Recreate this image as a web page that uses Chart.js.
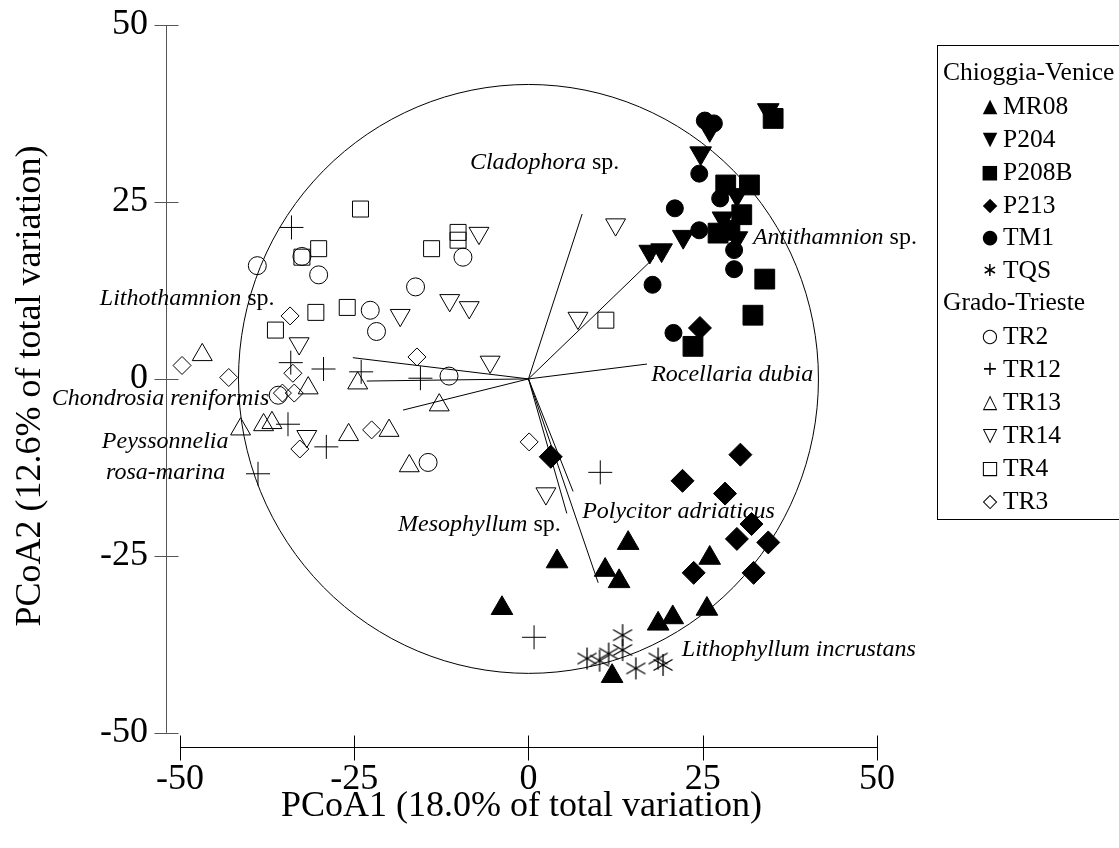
<!DOCTYPE html>
<html>
<head>
<meta charset="utf-8">
<script src="https://cdn.jsdelivr.net/npm/chart.js@4.4.1/dist/chart.umd.min.js"></script>
<style>
    body { margin: 0; background: #fff; }
    #wrap { position: relative; width: 1119px; height: 848px; }
    #legend {
        position: absolute; left: 937px; top: 45px; width: 200px; height: 475px;
        border: 1px solid #000; box-sizing: border-box; padding-top: 10px;
        font-family: "Liberation Serif", "Times New Roman", serif; font-size: 25.5px; color: #000;
    }
    #legend div { height: 32.9px; line-height: 32.9px; white-space: nowrap; }
    #legend .hdr { padding-left: 5px; }
    #legend .item { padding-left: 42px; }
    #legend .sym { display: inline-block; width: 20px; text-align: center; margin-right: 3px;
        font-family: "DejaVu Sans", sans-serif; font-size: 19px; vertical-align: 2px; }
</style>
</head>
<body>
<div id="wrap">
    <canvas id="pcoa" width="1119" height="848"></canvas>
    <div id="legend"></div>
</div>
<script>
// ---- data ----
const tickValues = [-50, -25, 0, 25, 50];

// Chioggia-Venice
const mr08X = [14.3, 4.1, 11.0, 13.0, -3.8, 18.6, 20.7, 25.6, 26.0, 12.0];
const mr08Y = [-23.2, -25.8, -27.0, -28.6, -32.4, -34.6, -33.7, -32.5, -25.3, -42.0];
const p204X = [26.0, 24.7, 34.4, 29.9, 27.9, 22.2, 29.9, 17.4, 19.1];
const p204Y = [35.2, 31.9, 38.0, 26.0, 22.7, 20.1, 19.9, 18.0, 18.2];
const p208bX = [35.1, 28.3, 31.7, 30.6, 27.2, 28.9, 33.9, 32.2, 23.6];
const p208bY = [36.8, 27.4, 27.4, 23.2, 20.6, 21.0, 14.1, 9.0, 4.6];
const p213X = [3.2, 22.1, 30.4, 28.2, 32.0, 29.9, 34.4, 23.7, 32.3, 24.6];
const p213Y = [-11.0, -14.4, -10.7, -16.2, -20.5, -22.6, -23.1, -27.4, -27.4, 7.2];
const tm1X = [25.3, 26.6, 24.5, 27.5, 21.0, 24.5, 29.5, 29.5, 17.8, 20.8];
const tm1Y = [36.5, 36.1, 29.0, 25.5, 24.1, 21.0, 18.2, 15.5, 13.3, 6.5];
const tqsX = [8.4, 10.2, 11.5, 13.5, 13.5, 15.4, 18.6, 19.3];
const tqsY = [-39.5, -39.8, -38.8, -36.2, -38.3, -40.9, -39.5, -40.4];

// Grado-Trieste
const tr2X = [-38.9, -32.5, -30.1, -9.4, -16.2, -22.7, -21.8, -11.4, -35.9, -14.4];
const tr2Y = [16.0, 17.3, 14.7, 17.2, 13.0, 9.7, 6.7, 0.4, -2.3, -11.8];
const tr12X = [-34.0, -34.1, -29.4, -24.0, -15.5, -34.5, -29.0, -38.8, 10.3, 0.8];
const tr12Y = [21.4, 2.3, 1.4, 1.0, 0.1, -6.4, -9.6, -13.4, -13.2, -36.5];
const tr13X = [-46.8, -24.5, -31.6, -12.8, -41.3, -38.0, -36.8, -25.8, -20.0, -17.1];
const tr13Y = [3.4, -0.6, -1.3, -3.7, -7.1, -6.5, -6.2, -7.9, -7.3, -12.3];
const tr14X = [-7.1, -11.3, -8.5, -18.4, -32.9, -5.5, -31.8, 12.5, 7.1, 2.5];
const tr14Y = [20.6, 11.1, 10.1, 9.0, 5.0, 2.4, -8.1, 21.8, 8.6, -16.2];
const tr4X = [-24.1, -10.1, -10.1, -30.1, -32.5, -13.9, -30.5, -26.0, -36.3, 11.1];
const tr4Y = [24.0, 20.7, 19.6, 18.4, 17.2, 18.4, 9.4, 10.1, 6.9, 8.3];
const tr3X = [-34.2, -16.0, -49.7, -43.0, -33.8, -35.3, -33.6, -32.8, -22.5, 0.1];
const tr3Y = [8.9, 3.1, 1.9, 0.2, 0.8, -2.0, -2.0, -9.9, -7.2, -8.9];

// species vectors (end points)
const vectorNames = ['Cladophora', 'Antithamnion', 'Rocellaria', 'Lithothamnion', 'Chondrosia',
    'Peyssonnelia', 'Mesophyllum', 'Polycitor', 'Lithophyllum'];
const vectorX = [7.7, 18.0, 17.0, -25.2, -23.2, -18.0, 5.5, 6.4, 10.0];
const vectorY = [23.3, 17.1, 2.1, 3.0, -0.3, -4.4, -19.0, -15.9, -28.8];
const circleRadius = 41.6;

// vector labels: [italic part, roman part], anchored at left/middle
const labelTexts = [['Cladophora', ' sp.'], ['Antithamnion', ' sp.'], ['Lithothamnion', ' sp.'],
    ['Rocellaria dubia', ''], ['Chondrosia reniformis', ''], ['Peyssonnelia', ''], ['rosa-marina', ''],
    ['Mesophyllum', ' sp.'], ['Polycitor adriaticus', ''], ['Lithophyllum incrustans', '']];
const labelX = [-8.4, 32.2, -61.5, 17.6, -68.4, -61.2, -60.6, -18.7, 7.7, 22.0];
const labelY = [30.5, 20.0, 11.4, 0.55, -2.8, -8.9, -13.2, -20.6, -18.8, -38.3];

const serif = '"Liberation Serif", "Times New Roman", serif';

function pts(xs, ys) {
    return xs.map((x, i) => ({ x: x, y: ys[i] }));
}

function makeAsterisk(size) {
    const c = document.createElement('canvas');
    c.width = c.height = size;
    const g = c.getContext('2d');
    const r = size / 2 - 1;
    g.strokeStyle = '#000';
    g.lineWidth = 1.3;
    g.beginPath();
    [90, 30, 150].forEach(deg => {
        const a = deg * Math.PI / 180;
        g.moveTo(size / 2 + r * Math.cos(a), size / 2 - r * Math.sin(a));
        g.lineTo(size / 2 - r * Math.cos(a), size / 2 + r * Math.sin(a));
    });
    g.stroke();
    return c;
}

function filled(label, data, style, radius, rotation) {
    return { label: label, data: data, pointStyle: style, pointRadius: radius, pointRotation: rotation || 0,
        backgroundColor: '#000', borderColor: '#000', borderWidth: 1, pointHoverRadius: radius };
}
function open(label, data, style, radius, rotation) {
    return { label: label, data: data, pointStyle: style, pointRadius: radius, pointRotation: rotation || 0,
        backgroundColor: 'rgba(0,0,0,0)', borderColor: '#000', borderWidth: 1, pointHoverRadius: radius };
}

const vectorSets = vectorX.map((x, i) => ({
    label: vectorNames[i], data: [{ x: 0, y: 0 }, { x: x, y: vectorY[i] }],
    showLine: true, pointRadius: 0, borderColor: '#000', borderWidth: 1
}));

const datasets = vectorSets.concat([
    open('TR2', pts(tr2X, tr2Y), 'circle', 9),
    open('TR12', pts(tr12X, tr12Y), 'cross', 12),
    open('TR13', pts(tr13X, tr13Y), 'triangle', 11.5),
    open('TR14', pts(tr14X, tr14Y), 'triangle', 11.5, 180),
    open('TR4', pts(tr4X, tr4Y), 'rect', 11.3),
    open('TR3', pts(tr3X, tr3Y), 'rectRot', 9),
    filled('MR08', pts(mr08X, mr08Y), 'triangle', 12.5),
    filled('P204', pts(p204X, p204Y), 'triangle', 12.5, 180),
    filled('P208B', pts(p208bX, p208bY), 'rect', 14),
    filled('P213', pts(p213X, p213Y), 'rectRot', 11.5),
    filled('TM1', pts(tm1X, tm1Y), 'circle', 8.5),
    open('TQS', pts(tqsX, tqsY), makeAsterisk(24), 12)
]);

// axes, circle and species labels drawn against the library scales
const biplotDecor = {
    id: 'biplotDecor',
    beforeDatasetsDraw(chart) {
        const { ctx, scales: { x, y } } = chart;
        const x0 = x.getPixelForValue(0), y0 = y.getPixelForValue(0);
        ctx.save();
        ctx.strokeStyle = '#000';
        ctx.lineWidth = 1;
        ctx.beginPath();
        ctx.ellipse(x0, y0, x.getPixelForValue(circleRadius) - x0, y0 - y.getPixelForValue(circleRadius), 0, 0, Math.PI * 2);
        ctx.stroke();

        // y axis (detached, left)
        const ax = Math.round(x.left) + 0.5;
        ctx.strokeStyle = '#555';
        ctx.beginPath();
        ctx.moveTo(ax, y.getPixelForValue(50));
        ctx.lineTo(ax, y.getPixelForValue(-50));
        tickValues.forEach(v => {
            const py = Math.round(y.getPixelForValue(v)) + 0.5;
            ctx.moveTo(ax - 12, py);
            ctx.lineTo(ax + 12, py);
        });
        ctx.stroke();

        // x axis (detached, bottom)
        const ay = Math.round(y.bottom) + 0.5;
        ctx.strokeStyle = '#000';
        ctx.beginPath();
        ctx.moveTo(x.getPixelForValue(-50), ay);
        ctx.lineTo(x.getPixelForValue(50), ay);
        tickValues.forEach(v => {
            const px = Math.round(x.getPixelForValue(v)) + 0.5;
            ctx.moveTo(px, ay - 12);
            ctx.lineTo(px, ay + 13);
        });
        ctx.stroke();
        ctx.restore();
    },
    afterDatasetsDraw(chart) {
        const { ctx, scales: { x, y } } = chart;
        ctx.save();
        ctx.fillStyle = '#000';
        ctx.textBaseline = 'middle';
        ctx.textAlign = 'left';
        labelTexts.forEach((parts, i) => {
            let px = x.getPixelForValue(labelX[i]);
            const py = y.getPixelForValue(labelY[i]);
            ctx.font = 'italic 24px ' + serif;
            ctx.fillText(parts[0], px, py);
            px += ctx.measureText(parts[0]).width;
            if (parts[1]) {
                ctx.font = '24px ' + serif;
                ctx.fillText(parts[1], px, py);
            }
        });
        ctx.restore();
    }
};

const axisFont = { family: serif, size: 36 };

new Chart(document.getElementById('pcoa'), {
    type: 'scatter',
    data: { datasets: datasets },
    options: {
        responsive: false,
        animation: false,
        events: [],
        layout: { padding: { left: 0, right: 242, top: 25, bottom: 0 } },
        plugins: { legend: { display: false }, tooltip: { enabled: false } },
        elements: { line: { tension: 0 } },
        scales: {
            x: {
                type: 'linear', min: -52, max: 50,
                afterFit: s => { s.height = 101; s.paddingLeft = 0; s.paddingRight = 0; },
                afterBuildTicks: s => { s.ticks = tickValues.map(v => ({ value: v })); },
                grid: { display: false, drawTicks: false },
                border: { display: false },
                ticks: { color: '#000', font: axisFont, padding: 11, maxRotation: 0, callback: v => String(v) },
                title: { display: true, text: 'PCoA1 (18.0% of total variation)', color: '#000', font: axisFont,
                    padding: { top: 0, bottom: 20 } }
            },
            y: {
                type: 'linear', min: -52, max: 50,
                afterFit: s => { s.width = 166; s.paddingTop = 0; s.paddingBottom = 0; },
                afterBuildTicks: s => { s.ticks = tickValues.map(v => ({ value: v })); },
                grid: { display: false, drawTicks: false },
                border: { display: false },
                ticks: { color: '#000', font: axisFont, padding: 18, callback: v => String(v) },
                title: { display: true, text: 'PCoA2 (12.6% of total variation)', color: '#000', font: axisFont,
                    padding: { top: 9, bottom: 0 } }
            }
        }
    },
    plugins: [biplotDecor]
});

// grouped legend
const legendGroups = [
    ['Chioggia-Venice', [['\u25B2', 'MR08'], ['\u25BC', 'P204'], ['\u25A0', 'P208B'], ['\u25C6', 'P213'], ['\u25CF', 'TM1'], ['\u2217', 'TQS']]],
    ['Grado-Trieste', [['\u25CB', 'TR2'], ['+', 'TR12'], ['\u25B3', 'TR13'], ['\u25BD', 'TR14'], ['\u25A1', 'TR4'], ['\u25C7', 'TR3']]]
];
const legendEl = document.getElementById('legend');
legendGroups.forEach(([group, items]) => {
    const h = document.createElement('div');
    h.className = 'hdr';
    h.textContent = group;
    legendEl.appendChild(h);
    items.forEach(([sym, name]) => {
        const row = document.createElement('div');
        row.className = 'item';
        const s = document.createElement('span');
        s.className = 'sym';
        s.textContent = sym;
        row.appendChild(s);
        row.appendChild(document.createTextNode(name));
        legendEl.appendChild(row);
    });
});
</script>
</body>
</html>
